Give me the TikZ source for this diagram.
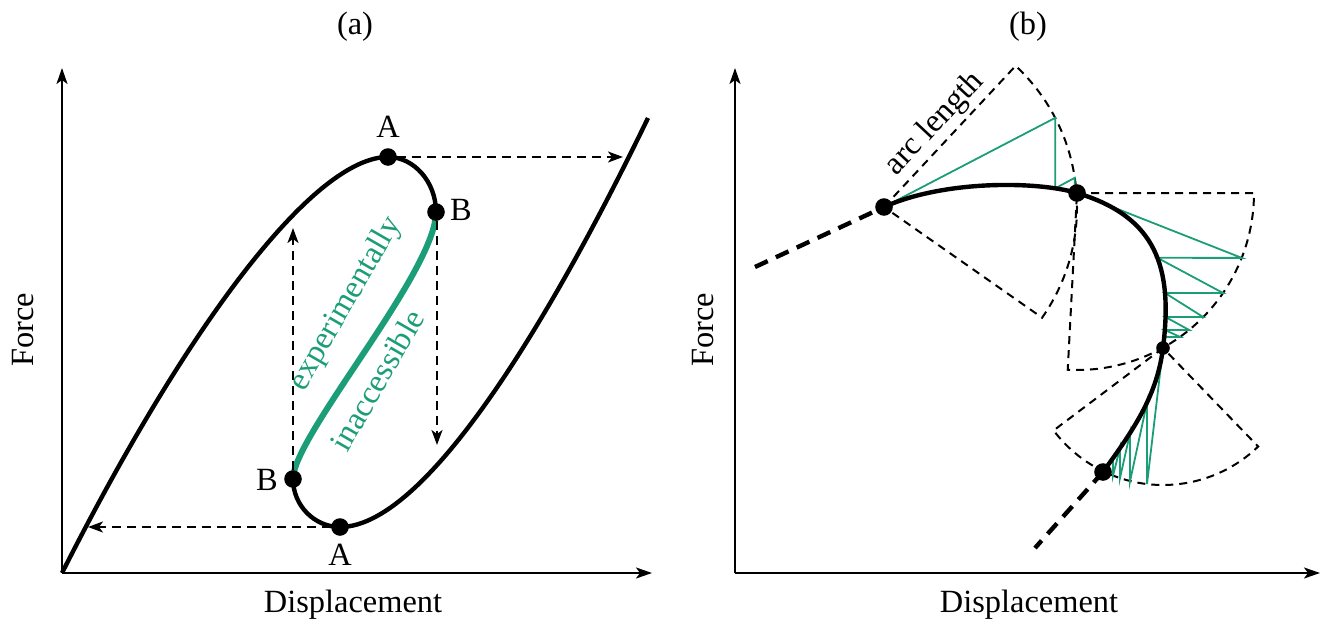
\documentclass[tikz,border=0pt]{standalone}
\usepackage{fontspec}
\setmainfont{Liberation Serif}
\usetikzlibrary{arrows.meta,calc,intersections}
\definecolor{tealg}{RGB}{27,158,119}
\begin{document}
\begin{tikzpicture}[x=0.5pt,y=-0.5pt,
  lbl/.style={font=\fontsize{16.2}{19}\selectfont, inner sep=0pt},
  axisline/.style={line width=1.1pt, -{Stealth[length=8pt,width=5.5pt,inset=2pt]}},
  darrow/.style={line width=1pt, dash pattern=on 4.5pt off 3pt, -{Stealth[length=7.5pt,width=5.5pt,inset=2pt]}},
  thickcurve/.style={line width=2.2pt},
  greencurve/.style={line width=3pt, draw=tealg},
  dotnode/.style={circle, fill=black, inner sep=0pt, minimum size=8.8pt},
  smalldot/.style={circle, fill=black, inner sep=0pt, minimum size=6.8pt},
  sector/.style={line width=1pt, dash pattern=on 4pt off 3pt},
  ext/.style={line width=2.2pt, dash pattern=on 7pt off 4.5pt},
  greenline/.style={line width=0.9pt, draw=tealg},
]
\useasboundingbox (0,0) rectangle (1330,621);

% ================= panel (a) =================
\coordinate (Oa) at (62,573);
\coordinate (Ya) at (62,68);
\coordinate (Xa) at (652,573);
\draw[axisline] (Oa) -- (Ya);
\draw[axisline] (Oa) -- (Xa);

\coordinate (a1) at (388,157);
\coordinate (b1) at (436,212);
\coordinate (b2) at (293,479);
\coordinate (a2) at (340,527);
\coordinate (ea) at (648,118);

\draw[thickcurve] (Oa) .. controls (190,320) and (315,157) .. (a1)
  .. controls (414,157) and (436,182) .. (b1);
\draw[greencurve] (b1) .. controls (436,272) and (293,436) .. (b2);
\draw[thickcurve] (b2) .. controls (293,505) and (314,527) .. (a2)
  .. controls (430,527) and (560,300) .. (ea);

\node[dotnode] (A1) at (a1) {};
\node[dotnode] (B1) at (b1) {};
\node[dotnode] (B2) at (b2) {};
\node[dotnode] (A2) at (a2) {};

\coordinate (ta1) at (623,157);
\coordinate (ta2) at (88,527);
\coordinate (tb1) at (437,445);
\coordinate (tb2) at (293,228);
\draw[darrow] (A1) -- (ta1);
\draw[darrow] (A2) -- (ta2);
\draw[darrow] (B1.south -| tb1) -- (tb1);
\draw[darrow] (B2) -- (tb2);

\node[lbl, anchor=base] (LA1) at (388,137) {A};
\node[lbl, anchor=base] (LB1) at (461,220) {B};
\node[lbl, anchor=base] (LB2) at (267,490) {B};
\node[lbl, anchor=base] (LA2) at (340,565) {A};

\node[lbl, text=tealg, rotate=60] (exp) at (346,304) {experimentally};
\node[lbl, text=tealg, rotate=60] (ina) at (377,380) {inaccessible};

\node[lbl, anchor=base] (capa) at (355,34) {(a)};
\node[lbl, anchor=base] (xla) at (353,612) {Displacement};
\node[lbl, anchor=base, rotate=90] (yla) at (33,330) {Force};

% ================= panel (b) =================
\coordinate (Ob) at (735,573);
\coordinate (Yb) at (735,68);
\coordinate (Xb) at (1320,573);
\draw[axisline] (Ob) -- (Yb);
\draw[axisline] (Ob) -- (Xb);

\coordinate (p1) at (884,207);
\coordinate (p2) at (1077,193);
\coordinate (p3) at (1163,348);
\coordinate (p4) at (1103,472);
\coordinate (q0) at (755,267);
\coordinate (q5) at (1035,548);

\path[name path=bcurve] (p1) .. controls (944,180) and (1037,181) .. (p2)
  .. controls (1157,217) and (1173,268) .. (p3)
  .. controls (1157,395) and (1135,428) .. (p4);

% sectors
\draw[sector] (p1) -- ++(-47:193) arc[start angle=-47, end angle=35, radius=193] -- cycle;
\draw[sector] (p2) -- ++(0:177) arc[start angle=0, end angle=93, radius=177] -- cycle;
\draw[sector] (p3) -- ++(143:137) arc[start angle=143, end angle=46, radius=137] -- cycle;

% sector 1 iterations
\coordinate (s1a) at ($(p1)+(-27.5:193)$);
\coordinate (s1b) at ($(p1)+(-8.7:193)$);
\path[name path=v1a] (s1a) -- ++(0,100);
\path[name path=v1b] (s1b) -- ++(0,60);
\path[name intersections={of=bcurve and v1a, by=c1a}];
\path[name intersections={of=bcurve and v1b, by=c1b}];
\draw[greenline] (p1) -- (s1a) -- (c1a) -- (s1b) -- (c1b);

% sector 2 iterations
\coordinate (s2a) at ($(p2)+(21.5:177)$);
\coordinate (s2b) at ($(p2)+(34.4:177)$);
\coordinate (s2c) at ($(p2)+(44.5:177)$);
\coordinate (s2d) at ($(p2)+(50.7:177)$);
\coordinate (s2e) at ($(p2)+(54.4:177)$);
\path[name path=h2a] (s2a) -- ++(-130,0);
\path[name path=h2b] (s2b) -- ++(-130,0);
\path[name path=h2c] (s2c) -- ++(-130,0);
\path[name path=h2d] (s2d) -- ++(-130,0);
\path[name path=h2e] (s2e) -- ++(-130,0);
\path[name intersections={of=bcurve and h2a, by=c2a}];
\path[name intersections={of=bcurve and h2b, by=c2b}];
\path[name intersections={of=bcurve and h2c, by=c2c}];
\path[name intersections={of=bcurve and h2d, by=c2d}];
\path[name intersections={of=bcurve and h2e, by=c2e}];
\draw[greenline] (p2) -- (s2a) -- (c2a) -- (s2b) -- (c2b) -- (s2c) -- (c2c)
  -- (s2d) -- (c2d) -- (s2e) -- (c2e);

% sector 3 iterations
\coordinate (s3a) at ($(p3)+(96.7:137)$);
\coordinate (s3b) at ($(p3)+(103.9:137)$);
\coordinate (s3c) at ($(p3)+(108.3:137)$);
\coordinate (s3d) at ($(p3)+(111.4:137)$);
\path[name path=v3a] (s3a) -- ++(0,-110);
\path[name path=v3b] (s3b) -- ++(0,-110);
\path[name path=v3c] (s3c) -- ++(0,-110);
\path[name path=v3d] (s3d) -- ++(0,-110);
\path[name intersections={of=bcurve and v3a, by=c3a}];
\path[name intersections={of=bcurve and v3b, by=c3b}];
\path[name intersections={of=bcurve and v3c, by=c3c}];
\path[name intersections={of=bcurve and v3d, by=c3d}];
\draw[greenline] (p3) -- (s3a) -- (c3a) -- (s3b) -- (c3b) -- (s3c) -- (c3c)
  -- (s3d) -- (c3d);

% main curve
\draw[thickcurve] (p1) .. controls (944,180) and (1037,181) .. (p2)
  .. controls (1157,217) and (1173,268) .. (p3)
  .. controls (1157,395) and (1135,428) .. (p4);
\draw[ext] (q0) -- (p1);
\draw[ext] (p4) -- (q5);

\node[dotnode] (P1) at (p1) {};
\node[dotnode] (P2) at (p2) {};
\node[smalldot] (P3) at (p3) {};
\node[dotnode] (P4) at (p4) {};

\node[lbl, rotate=47] (arcl) at (935,124) {arc length};

\node[lbl, anchor=base] (capb) at (1028,34) {(b)};
\node[lbl, anchor=base] (xlb) at (1029,612) {Displacement};
\node[lbl, anchor=base, rotate=90] (ylb) at (713,330) {Force};
\end{tikzpicture}
\end{document}
